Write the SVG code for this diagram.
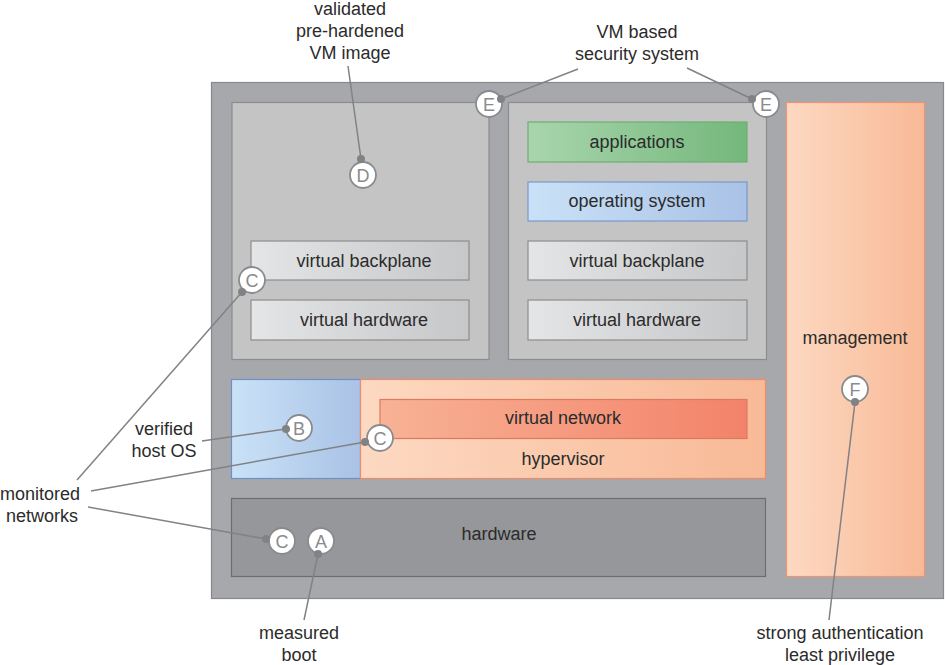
<svg xmlns="http://www.w3.org/2000/svg" width="945" height="665" viewBox="0 0 945 665">
<style>
text{font-family:"Liberation Sans",Arial,Helvetica,sans-serif;font-size:18px;fill:#2b2b2b;text-anchor:middle}
.vm{fill:#c4c4c5;stroke:#8c8d90;stroke-width:1.2}
.gray{fill:url(#gGray);stroke:#8c8d90;stroke-width:1.2}
.mk circle{fill:#fff;stroke:#8a8b8e;stroke-width:1.8}
.mk text{fill:#8a8b8e;font-size:18px}
.ln line{stroke:#808285;stroke-width:1.5}
.ln circle{fill:#808285}
</style>
<defs>
<linearGradient id="gGray" x1="0" x2="1" y1="0" y2="0"><stop offset="0" stop-color="#e4e5e6"/><stop offset="1" stop-color="#c6c7c9"/></linearGradient>
<linearGradient id="gGreen" x1="0" x2="1" y1="0" y2="0"><stop offset="0" stop-color="#a9d5ad"/><stop offset="1" stop-color="#74b87b"/></linearGradient>
<linearGradient id="gBlue" x1="0" x2="1" y1="0" y2="0"><stop offset="0" stop-color="#cae2f7"/><stop offset="1" stop-color="#a9c2e6"/></linearGradient>
<linearGradient id="gPeach" x1="0" x2="1" y1="0" y2="0"><stop offset="0" stop-color="#fdd9c2"/><stop offset="1" stop-color="#f8b996"/></linearGradient>
<linearGradient id="gRed" x1="0" x2="1" y1="0" y2="0"><stop offset="0" stop-color="#f8b295"/><stop offset="1" stop-color="#f2836a"/></linearGradient>
</defs>
<g id="host"><rect x="211.5" y="82.5" width="732" height="516" fill="#a7a8ab" stroke="#88898c" stroke-width="1.2"/></g>
<g id="vm1">
<rect class="vm" x="232" y="102.5" width="257" height="257"/>
<rect class="gray" x="251" y="241" width="218" height="39"/>
<text x="364" y="267">virtual backplane</text>
<rect class="gray" x="251" y="300" width="218" height="40"/>
<text x="364" y="326">virtual hardware</text>
</g>
<g id="vm2">
<rect class="vm" x="508.5" y="102.5" width="258" height="257"/>
<rect x="528" y="122" width="219" height="40" fill="url(#gGreen)" stroke="#6bb070" stroke-width="1.2"/>
<text x="637" y="148">applications</text>
<rect x="528" y="182" width="219" height="39" fill="url(#gBlue)" stroke="#7b98cb" stroke-width="1.2"/>
<text x="637" y="207">operating system</text>
<rect class="gray" x="528" y="241" width="219" height="39"/>
<text x="637" y="267">virtual backplane</text>
<rect class="gray" x="528" y="300" width="219" height="40"/>
<text x="637" y="326">virtual hardware</text>
</g>
<g id="hostos"><rect x="231.5" y="379.5" width="129" height="99" fill="url(#gBlue)" stroke="#6f8fc8" stroke-width="1.2"/></g>
<g id="hypervisor">
<rect x="360.5" y="379.5" width="405" height="99" fill="url(#gPeach)" stroke="#ea8d6c" stroke-width="1.2"/>
<text x="563" y="465">hypervisor</text>
</g>
<g id="vnet">
<rect x="380" y="399.5" width="367" height="39" fill="url(#gRed)" stroke="#dc7a60" stroke-width="1.2"/>
<text x="563" y="424">virtual network</text>
</g>
<g id="hardware">
<rect x="231.5" y="498.5" width="534" height="78" fill="#96979a" stroke="#6c6d70" stroke-width="1.2"/>
<text x="499" y="540">hardware</text>
</g>
<g id="management">
<rect x="786.5" y="102.5" width="138" height="474" fill="url(#gPeach)" stroke="#eb9477" stroke-width="1.2"/>
<text x="855" y="344">management</text>
</g>
<g id="labels">
<text x="350" y="15">validated</text>
<text x="350" y="37">pre-hardened</text>
<text x="350" y="59">VM image</text>
<text x="637" y="38">VM based</text>
<text x="637" y="60">security system</text>
<text x="164" y="435">verified</text>
<text x="164" y="457">host OS</text>
<text x="40" y="500">monitored</text>
<text x="42" y="522">networks</text>
<text x="299" y="639">measured</text>
<text x="299" y="661">boot</text>
<text x="840" y="639">strong authentication</text>
<text x="840" y="661">least privilege</text>
</g>
<g id="markers" class="mk">
<g id="mD"><circle cx="363" cy="175" r="13"/><text x="363" y="181.5">D</text></g>
<g id="mE1"><circle cx="489" cy="104" r="13"/><text x="489" y="110.5">E</text></g>
<g id="mE2"><circle cx="766" cy="104" r="13"/><text x="766" y="110.5">E</text></g>
<g id="mC1"><circle cx="252" cy="280" r="13"/><text x="252" y="286.5">C</text></g>
<g id="mB"><circle cx="299" cy="428" r="13"/><text x="299" y="434.5">B</text></g>
<g id="mC2"><circle cx="380" cy="438" r="13"/><text x="380" y="444.5">C</text></g>
<g id="mC3"><circle cx="282" cy="541" r="13"/><text x="282" y="547.5">C</text></g>
<g id="mA"><circle cx="321" cy="541" r="13"/><text x="321" y="547.5">A</text></g>
<g id="mF"><circle cx="855" cy="389" r="13"/><text x="855" y="395.5">F</text></g>
</g>
<g id="connectors" class="ln">
<line x1="348" y1="66" x2="361" y2="159"/><circle cx="361" cy="159" r="4"/>
<line x1="578" y1="69" x2="501" y2="99"/><circle cx="501" cy="99" r="4"/>
<line x1="687" y1="68" x2="752" y2="99"/><circle cx="752" cy="99" r="4"/>
<line x1="202" y1="441" x2="286" y2="429"/><circle cx="286" cy="429" r="4"/>
<line x1="77" y1="480" x2="242" y2="292"/><circle cx="242" cy="292" r="4"/>
<line x1="91" y1="491" x2="365" y2="442"/><circle cx="365" cy="442" r="4"/>
<line x1="88" y1="507" x2="266" y2="539"/><circle cx="266" cy="539" r="4"/>
<line x1="304" y1="620" x2="318" y2="554"/><circle cx="318" cy="554" r="4"/>
<line x1="829" y1="620" x2="855" y2="402"/><circle cx="855" cy="402" r="4"/>
</g>
</svg>
